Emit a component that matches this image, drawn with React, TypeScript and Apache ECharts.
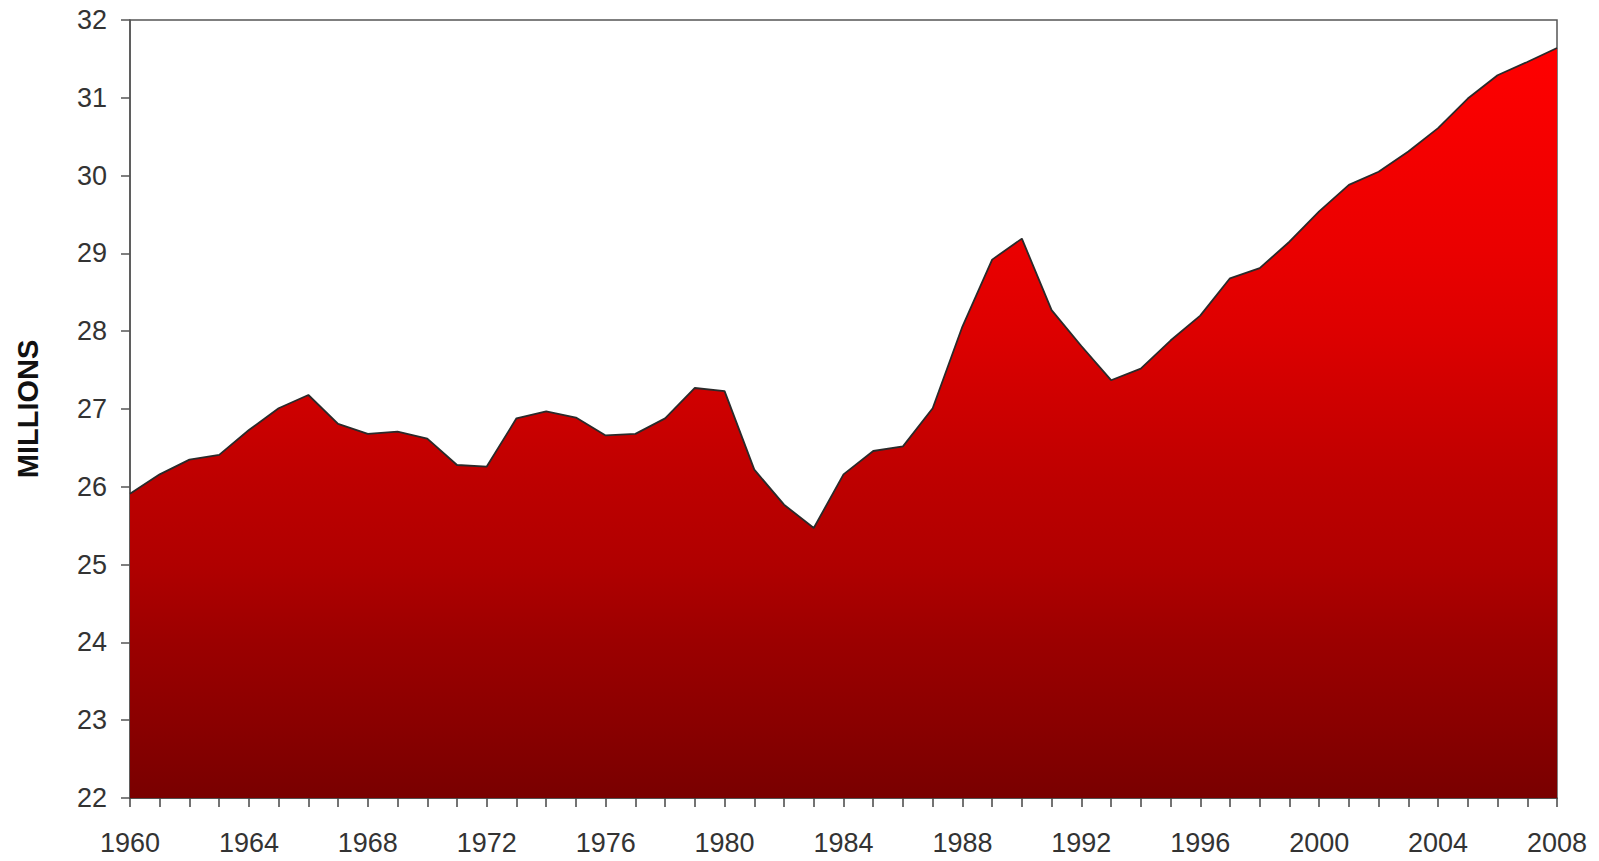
import React, { useEffect, useRef } from "react";
import * as echarts from "echarts";

const years: string[] = [];
for (let y = 1960; y <= 2008; y++) years.push(String(y));

const values: number[] = [
  25.91, 26.16, 26.35, 26.41, 26.73, 27.01, 27.18, 26.81, 26.68, 26.71,
  26.62, 26.28, 26.26, 26.88, 26.97, 26.89, 26.66, 26.68, 26.88, 27.27,
  27.23, 26.22, 25.77, 25.47, 26.16, 26.46, 26.52, 27.01, 28.06, 28.92,
  29.19, 28.27, 27.81, 27.37, 27.52, 27.88, 28.2, 28.68, 28.81, 29.15,
  29.54, 29.88, 30.05, 30.31, 30.61, 30.99, 31.29, 31.46, 31.64,
];

const yAxisTitle = "MILLIONS";

export default function App() {
  const ref = useRef<HTMLDivElement>(null);
  useEffect(() => {
    if (!ref.current) return;
    const chart = echarts.init(ref.current, null, { renderer: "svg" });
    chart.setOption({
      animation: false,
      backgroundColor: "#ffffff",
      grid: {
        left: 130,
        right: 42,
        top: 20,
        bottom: 63,
        show: true,
        borderColor: "#555555",
        borderWidth: 1.5,
      },
      xAxis: {
        type: "category",
        data: years,
        boundaryGap: false,
        axisLine: { show: true, lineStyle: { color: "#444444", width: 1.5 } },
        axisTick: { show: true, interval: 0, length: 9, lineStyle: { color: "#444444", width: 1.5 } },
        axisLabel: {
          interval: 3,
          margin: 31,
          fontFamily: "Liberation Sans, Arial, sans-serif",
          fontSize: 27,
          color: "#333333",
        },
        splitLine: { show: false },
      },
      yAxis: {
        type: "value",
        min: 22,
        max: 32,
        interval: 1,
        name: yAxisTitle,
        nameLocation: "middle",
        nameGap: 88,
        nameRotate: 90,
        nameTextStyle: {
          fontFamily: "Liberation Sans, Arial, sans-serif",
          fontSize: 29,
          fontWeight: "bold",
          color: "#111111",
        },
        axisLine: { show: true, lineStyle: { color: "#555555", width: 1.5 } },
        axisTick: { show: true, length: 9, lineStyle: { color: "#555555", width: 1.5 } },
        axisLabel: {
          margin: 23,
          fontFamily: "Liberation Sans, Arial, sans-serif",
          fontSize: 27,
          color: "#333333",
        },
        splitLine: { show: false },
      },
      series: [
        {
          type: "line",
          data: values,
          symbol: "none",
          lineStyle: { color: "#2a2a2a", width: 1.8 },
          areaStyle: {
            opacity: 1,
            color: new echarts.graphic.LinearGradient(0, 0, 0, 1, [
              { offset: 0, color: "#ff0000" },
              { offset: 0.27, color: "#ea0000" },
              { offset: 0.38, color: "#dd0000" },
              { offset: 0.58, color: "#bd0000" },
              { offset: 0.69, color: "#b00000" },
              { offset: 0.79, color: "#9c0000" },
              { offset: 0.9, color: "#8a0000" },
              { offset: 1, color: "#790000" },
            ]),
          },
        },
      ],
    });
    return () => chart.dispose();
  }, []);
  return (
    <div
      ref={ref}
      style={{ position: "absolute", left: 0, top: 0, width: 1599, height: 861 }}
    />
  );
}
